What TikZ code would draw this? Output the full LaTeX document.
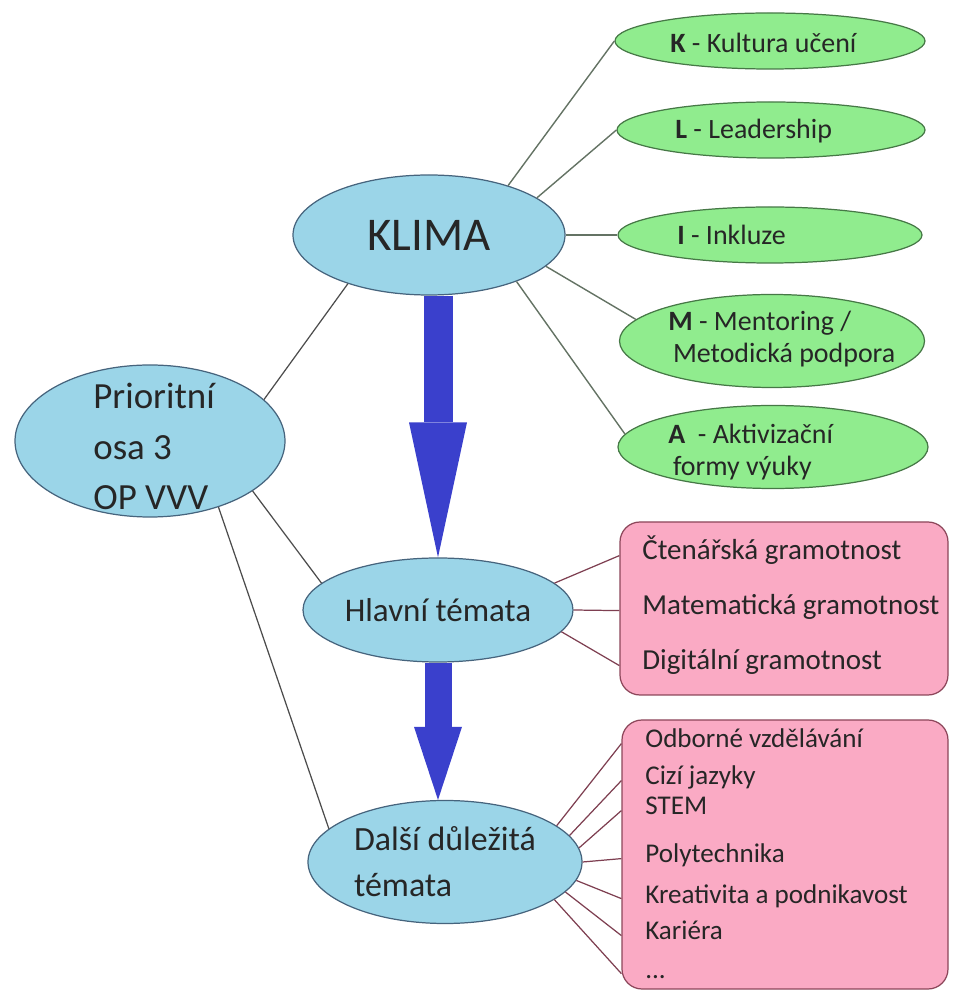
\documentclass[tikz,border=0pt]{standalone}
\usepackage{fontspec}
\setmainfont{Carlito}
\usepackage{tikz}
\usetikzlibrary{shapes.geometric,arrows.meta}
\definecolor{skyfill}{RGB}{155,213,232}
\definecolor{limefill}{RGB}{144,236,142}
\definecolor{rosefill}{RGB}{250,170,196}
\definecolor{arrowblue}{RGB}{58,64,204}
\definecolor{rimblue}{RGB}{70,100,125}
\definecolor{rimgreen}{RGB}{70,120,70}
\definecolor{rimrose}{RGB}{140,70,90}
\definecolor{greyishgreen}{RGB}{100,115,100}

\begin{document}
\begin{tikzpicture}[scale=1.0000]
	\tikzstyle{every node}=[scale=1.0000]
	\tikzstyle{blueell}=[ellipse ,draw=rimblue ,fill=skyfill ,line width = 0.7pt ,inner sep=0pt ,text=black!85]
	\tikzstyle{greenell}=[ellipse ,draw=rimgreen ,fill=limefill ,line width = 0.7pt ,inner sep=0pt]
	\tikzstyle{pinkbox}=[rectangle ,rounded corners=0.4cm ,draw=rimrose ,fill=rosefill ,line width = 0.7pt]
	\tikzstyle{greentext}=[anchor=west ,align=left ,inner sep=0pt ,font=\fontsize{15.9}{18.2}\selectfont ,text=black!85]
	\tikzstyle{itemtext}=[anchor=base west ,inner sep=0pt ,text height=0.7em ,text depth=0.2em ,text=black!85]
	\tikzstyle{greyline}=[line width = 0.7pt ,black!70]
	\tikzstyle{greenline}=[line width = 0.8pt ,greyishgreen]
	\tikzstyle{redline}=[line width = 0.7pt ,rimrose!90!black]
	\tikzstyle{bigarrow}=[arrowblue]

	\useasboundingbox (0.0000,0.0000) rectangle (19.0600,19.8200);

	%% blue ellipses
	\node [blueell ,minimum width=5.44cm ,minimum height=2.40cm ,font=\fontsize{26.7}{30}\selectfont] (klima) at (8.5800,15.1200) {KLIMA};
	\node [blueell ,minimum width=5.40cm ,minimum height=3.04cm] (prio) at (3.0000,11.0000) {};
	\node [anchor=west ,align=left ,inner sep=0pt ,text=black!85 ,font=\fontsize{21}{28.5}\selectfont] (priotext) at (1.8600,10.8900) {Prioritní\\osa 3\\OP VVV};
	\node [blueell ,minimum width=5.40cm ,minimum height=2.08cm ,font=\fontsize{18.8}{22}\selectfont] (hlavni) at (8.7600,7.6200) {Hlavní témata};
	\node [blueell ,minimum width=5.48cm ,minimum height=2.46cm ,align=left ,font=\fontsize{19.3}{26.2}\selectfont] (dalsi) at (8.9000,2.5800) {Další důležitá\\témata};

	%% green ellipses
	\node [greenell ,minimum width=6.20cm ,minimum height=1.12cm] (kultura) at (15.4000,19.0000) {};
	\node [greenell ,minimum width=6.16cm ,minimum height=1.12cm] (leader) at (15.4200,17.2200) {};
	\node [greenell ,minimum width=6.08cm ,minimum height=1.12cm] (inkluze) at (15.4000,15.1200) {};
	\node [greenell ,minimum width=6.10cm ,minimum height=1.86cm] (mentor) at (15.4400,13.0000) {};
	\node [greenell ,minimum width=6.20cm ,minimum height=1.66cm] (aktiv) at (15.4600,10.8800) {};
	\node [greentext] (kulturatext) at (13.4000,18.9600) {\textbf{K} - Kultura učení};
	\node [greentext] (leadertext) at (13.5000,17.2000) {\textbf{L} - Leadership};
	\node [greentext] (inkluzetext) at (13.5400,15.1200) {\textbf{I} - Inkluze};
	\node [greentext] (mentortext) at (13.3600,13.0400) {\textbf{M} - Mentoring /\\\,Metodická podpora};
	\node [greentext] (aktivtext) at (13.3600,10.7800) {\textbf{A} \ - Aktivizační\\\,formy výuky};

	%% pink boxes
	\node [pinkbox ,minimum width=6.56cm ,minimum height=3.46cm] (gramot) at (15.6800,7.6500) {};
	\node [pinkbox ,minimum width=6.52cm ,minimum height=5.38cm] (temabox) at (15.7000,2.7300) {};
	\node [itemtext ,font=\fontsize{16.5}{19}\selectfont] (ctenar) at (12.8400,8.6200) {Čtenářská gramotnost};
	\node [itemtext ,font=\fontsize{16.5}{19}\selectfont] (matem) at (12.8400,7.5200) {Matematická gramotnost};
	\node [itemtext ,font=\fontsize{16.5}{19}\selectfont] (digit) at (12.8400,6.4200) {Digitální gramotnost};
	\node [itemtext ,font=\fontsize{15.4}{18}\selectfont] (odborne) at (12.9000,4.8600) {Odborné vzdělávání};
	\node [itemtext ,font=\fontsize{15.4}{18}\selectfont] (jazyky) at (12.9000,4.1200) {Cizí jazyky};
	\node [itemtext ,font=\fontsize{15.4}{18}\selectfont] (stem) at (12.9000,3.5200) {STEM};
	\node [itemtext ,font=\fontsize{15.4}{18}\selectfont] (polytech) at (12.9000,2.5600) {Polytechnika};
	\node [itemtext ,font=\fontsize{15.4}{18}\selectfont] (kreativ) at (12.9000,1.7600) {Kreativita a podnikavost};
	\node [itemtext ,font=\fontsize{15.4}{18}\selectfont] (kariera) at (12.9000,1.0200) {Kariéra};
	\node [itemtext ,font=\fontsize{15.4}{18}\selectfont] (etc) at (12.9000,0.2600) {...};

	%% connectors
	\draw [greenline]  (klima.32) -- (kultura.west);
	\draw [greenline]  (klima.19) -- (leader.west);
	\draw [greenline]  (klima.east) -- (inkluze.west);
	\draw [greenline]  (klima.-15) -- (mentor.171);
	\draw [greenline]  (klima.-28) -- (aktiv.175);
	\draw [greyline]  (prio.20) -- (klima.211);
	\draw [greyline]  (prio.-26) -- (hlavni.167);
	\draw [greyline]  (prio.-44) -- (dalsi.164);
	\draw [redline]  (hlavni.13) -- (ctenar.west -| gramot.west);
	\draw [redline]  (hlavni.east) -- (matem.west -| gramot.west);
	\draw [redline]  (hlavni.-10) -- (digit.west -| gramot.west);
	\draw [redline]  (dalsi.18) -- (odborne.west -| temabox.west);
	\draw [redline]  (dalsi.12) -- (jazyky.west -| temabox.west);
	\draw [redline]  (dalsi.6) -- (stem.west -| temabox.west);
	\draw [redline]  (dalsi.east) -- (polytech.west -| temabox.west);
	\draw [redline]  (dalsi.-8) -- (kreativ.west -| temabox.west);
	\draw [redline]  (dalsi.-14) -- (kariera.west -| temabox.west);
	\draw [redline]  (dalsi.-19) -- (etc.west -| temabox.west);

	%% thick arrows
	\draw [bigarrow ,line width = 0.58cm ,-{Triangle[length=2.70cm ,width=1.16cm ,line width=0pt]}]  (hlavni.north |- klima.south) -- (hlavni.north);
	\draw [bigarrow ,line width = 0.54cm ,-{Triangle[length=1.46cm ,width=0.96cm ,line width=0pt]}]  (hlavni.south) -- (hlavni.south |- dalsi.north);

\end{tikzpicture}
\end{document}
